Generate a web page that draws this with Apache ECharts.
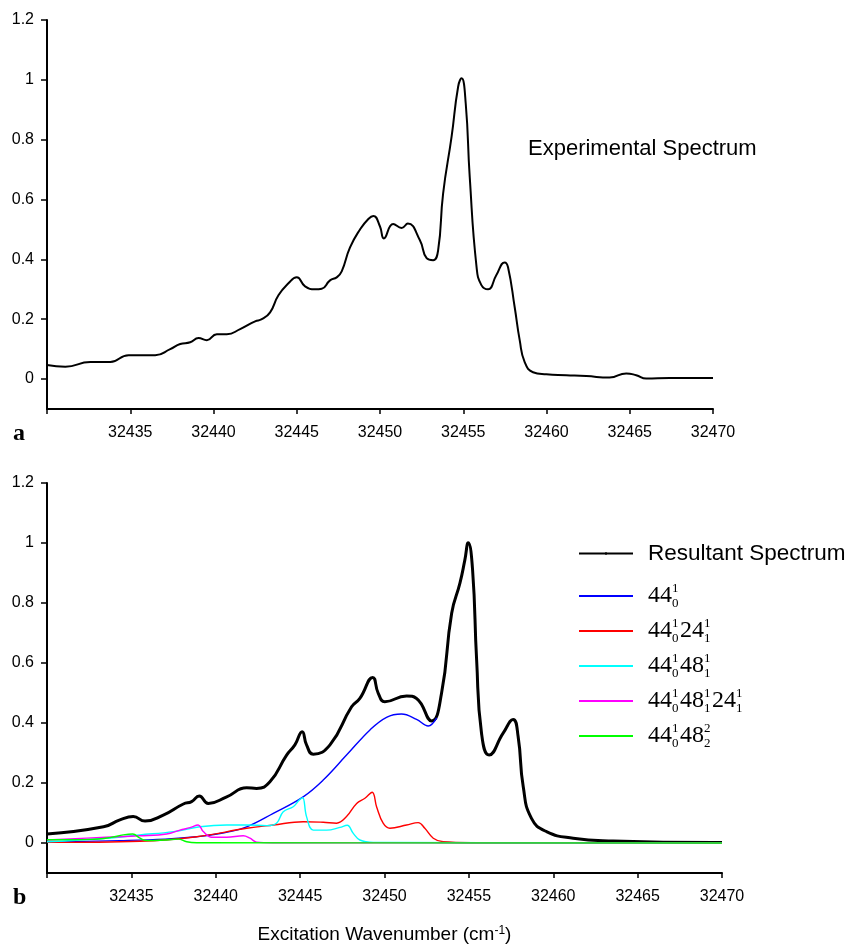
<!DOCTYPE html>
<html>
<head>
<meta charset="utf-8">
<script src="https://cdn.jsdelivr.net/npm/echarts@6/dist/echarts.min.js"></script>
<style>html,body{margin:0;padding:0;background:#fff}#c{width:846px;height:945px}</style>
</head>
<body>
<div id="c"></div>
<script>
// ---- data (wavenumber, intensity) ----
const experimental = [[32430,0.047],[32431.1,0.041],[32432.6,0.057],[32433.8,0.057],[32434.9,0.08],[32436.5,0.08],[32437.4,0.1],[32438.0,0.117],[32438.6,0.123],[32439.1,0.137],[32439.6,0.13],[32440.2,0.15],[32440.8,0.15],[32441.6,0.167],[32442.5,0.193],[32442.9,0.2],[32443.4,0.223],[32443.9,0.28],[32444.5,0.32],[32445.0,0.34],[32445.5,0.31],[32446.1,0.3],[32446.5,0.302],[32447.0,0.33],[32447.4,0.34],[32447.7,0.36],[32448.2,0.44],[32448.8,0.5],[32449.3,0.535],[32449.6,0.545],[32450.0,0.51],[32450.23,0.47],[32450.79,0.518],[32451.3,0.505],[32451.67,0.52],[32452.39,0.465],[32452.8,0.404],[32453.19,0.397],[32453.49,0.43],[32453.79,0.62],[32454.3,0.81],[32454.69,0.976],[32454.9,1.005],[32455.15,0.92],[32455.39,0.675],[32455.8,0.374],[32456.09,0.314],[32456.49,0.30],[32456.99,0.348],[32457.49,0.39],[32457.69,0.374],[32458.09,0.24],[32458.39,0.13],[32458.69,0.057],[32459.19,0.023],[32459.99,0.016],[32461.19,0.013],[32462.39,0.01],[32463.79,0.005],[32464.79,0.019],[32465.39,0.013],[32465.99,0.002],[32467.39,0.004],[32470,0.004]];

const resultant = [[32430,0.030],[32433.35,0.054],[32434.32,0.077],[32435.11,0.088],[32435.81,0.073],[32436.89,0.093],[32438.08,0.13],[32438.57,0.138],[32439.02,0.157],[32439.56,0.132],[32440.65,0.154],[32441.83,0.184],[32442.42,0.182],[32443.21,0.204],[32444.2,0.293],[32444.69,0.327],[32445.12,0.371],[32445.38,0.327],[32445.78,0.296],[32446.77,0.327],[32448.05,0.454],[32448.54,0.482],[32449.30,0.552],[32449.63,0.499],[32450.02,0.471],[32451.31,0.49],[32451.90,0.482],[32452.79,0.407],[32453.38,0.499],[32453.98,0.766],[32454.47,0.866],[32454.76,0.943],[32454.96,1.001],[32455.22,0.91],[32455.46,0.61],[32455.75,0.366],[32456.20,0.293],[32457.03,0.366],[32457.62,0.412],[32457.92,0.354],[32458.22,0.188],[32458.71,0.082],[32459.60,0.038],[32461.18,0.016],[32463.55,0.007],[32469.48,0.002],[32470,0.002]];

const band44 = [[32430,0.003],[32434.3,0.008],[32437,0.013],[32438.87,0.021],[32440.5,0.034],[32441.83,0.054],[32443.41,0.099],[32445.18,0.154],[32446.37,0.21],[32447.75,0.293],[32449.14,0.377],[32450.12,0.419],[32451.01,0.43],[32451.90,0.412],[32452.59,0.39],[32453.09,0.417]];

const band44_24 = [[32430,0.002],[32435.5,0.006],[32438.87,0.021],[32441.83,0.049],[32443.41,0.06],[32445.18,0.071],[32446.37,0.069],[32447.16,0.066],[32447.75,0.088],[32448.35,0.132],[32448.84,0.149],[32449.27,0.169],[32449.53,0.121],[32449.92,0.066],[32450.32,0.049],[32451.31,0.06],[32452.00,0.068],[32452.39,0.049],[32452.89,0.016],[32453.48,0.004],[32455.26,0.001],[32470,0.0]];

const band44_48 = [[32430,0.004],[32433.5,0.016],[32435.5,0.027],[32437.5,0.038],[32439.06,0.054],[32440.65,0.06],[32441.83,0.06],[32443.02,0.058],[32443.6,0.066],[32444.0,0.104],[32444.59,0.121],[32444.95,0.143],[32445.15,0.151],[32445.38,0.088],[32445.78,0.043],[32446.57,0.043],[32447.36,0.052],[32447.79,0.059],[32448.15,0.032],[32448.54,0.01],[32449.33,0.002],[32470,0.0]];

const band44_48_24 = [[32430,0.01],[32433.5,0.019],[32435.5,0.024],[32437.09,0.03],[32437.88,0.043],[32438.47,0.051],[32438.96,0.06],[32439.26,0.038],[32439.76,0.019],[32440.65,0.019],[32441.63,0.024],[32442.03,0.016],[32442.42,0.003],[32443.4,0.001],[32470,0.0]];

const band44_48x2 = [[32430,0.011],[32432.55,0.012],[32433.73,0.018],[32434.52,0.027],[32435.08,0.03],[32435.51,0.016],[32435.91,0.008],[32437.09,0.01],[32437.78,0.013],[32438.28,0.004],[32438.87,0.001],[32470,0.0]];

const xTickLabels = [32435,32440,32445,32450,32455,32460,32465,32470];
const yTickLabels = [0,0.2,0.4,0.6,0.8,1,1.2];

const seriesNames = ['Resultant Spectrum','44_0^1','44_0^1 24_1^1','44_0^1 48_1^1','44_0^1 48_1^1 24_1^1','44_0^1 48_2^2'];

// ---- chart ----
const SANS = '"Liberation Sans", Arial, sans-serif';
const SERIF = '"Liberation Serif", "Times New Roman", serif';

function xAxisCfg(gi, withName) {
  const a = {
    gridIndex: gi, type: 'value', min: 32430, max: 32470, interval: 5,
    axisLine: {onZero: false, lineStyle: {color: '#000', width: 2}},
    axisTick: {show: true, length: 5, lineStyle: {color: '#000', width: 1.5}},
    axisLabel: {customValues: xTickLabels, formatter: v => String(v), color: '#000', fontFamily: SANS, fontSize: 16, margin: 16},
    splitLine: {show: false}
  };
  if (withName) {
    a.name = 'Excitation Wavenumber (cm{sup|-1})';
    a.nameLocation = 'middle';
    a.nameGap = 52;
    a.nameTextStyle = {color: '#000', fontFamily: SANS, fontSize: 19,
      rich: {sup: {fontSize: 12, fontFamily: SANS, color: '#000', verticalAlign: 'top', lineHeight: 10}}};
  }
  return a;
}
function yAxisCfg(gi) {
  return {
    gridIndex: gi, type: 'value', min: -0.1, max: 1.2,
    axisLine: {show: true, onZero: false, lineStyle: {color: '#000', width: 2}},
    axisTick: {show: true, length: 6, customValues: yTickLabels, lineStyle: {color: '#000', width: 1.5}},
    axisLabel: {customValues: yTickLabels, color: '#000', fontFamily: SANS, fontSize: 16, margin: 13},
    splitLine: {show: false}
  };
}

function richName(name) {
  if (name === 'Resultant Spectrum') return name;
  return name.replace(/\s+/g, '').replace(/(\d+)_(\d)\^(\d)/g, '{m|$1}{sup|$3}{sub|$2}');
}

const thin = 1.4;
function lineSeries(name, data, color, width, axis, smooth) {
  return {name, type: 'line', xAxisIndex: axis, yAxisIndex: axis, data, symbol: 'none', smooth: smooth,
    legendIcon: 'rect', lineStyle: {color, width}, itemStyle: {color}};
}

const chart = echarts.init(document.getElementById('c'), null, {renderer: 'canvas'});
chart.setOption({
  animation: false,
  backgroundColor: '#fff',
  title: [
    {text: 'Experimental Spectrum', left: 523, top: 133, textStyle: {color: '#000', fontFamily: SANS, fontSize: 22, fontWeight: 'normal'}},
    {text: 'a', left: 8, top: 417, textStyle: {color: '#000', fontFamily: SERIF, fontSize: 24, fontWeight: 'bold'}},
    {text: 'b', left: 8, top: 881, textStyle: {color: '#000', fontFamily: SERIF, fontSize: 24, fontWeight: 'bold'}}
  ],
  grid: [
    {left: 47, width: 666, top: 20, height: 389, outerBoundsMode: 'none', containLabel: false},
    {left: 47, width: 675, top: 483, height: 390, outerBoundsMode: 'none', containLabel: false}
  ],
  xAxis: [xAxisCfg(0, false), xAxisCfg(1, true)],
  yAxis: [yAxisCfg(0), yAxisCfg(1)],
  legend: [
    {data: [seriesNames[0]], orient: 'vertical', left: 578, top: 542, padding: 0, itemWidth: 54, itemHeight: 3,
     textStyle: {color: '#000', fontFamily: SANS, fontSize: 22.5, padding: [0, 0, 0, 10]}},
    {data: seriesNames.slice(1), orient: 'vertical', left: 578, top: 582, padding: 0, itemWidth: 54, itemHeight: 2, itemGap: 7,
     formatter: richName,
     textStyle: {color: '#000', fontFamily: SERIF, fontSize: 24, padding: [0, 0, 0, 10],
       rich: {
         m: {fontFamily: SERIF, fontSize: 24, color: '#000', lineHeight: 28},
         sup: {fontFamily: SERIF, fontSize: 13, color: '#000', lineHeight: 16, verticalAlign: 'top', width: 0.01},
         sub: {fontFamily: SERIF, fontSize: 13, color: '#000', lineHeight: 16, verticalAlign: 'bottom', width: 8}
       }}}
  ],
  series: [
    lineSeries('Experimental Spectrum', experimental, '#000', 2, 0, 0.5),
    lineSeries(seriesNames[0], resultant, '#000', 3, 1, 0.5),
    lineSeries(seriesNames[1], band44, '#0000ff', thin, 1, 0.4),
    lineSeries(seriesNames[2], band44_24, '#ff0000', thin, 1, 0.4),
    lineSeries(seriesNames[3], band44_48, '#00ffff', thin, 1, 0.4),
    lineSeries(seriesNames[4], band44_48_24, '#ff00ff', thin, 1, 0.4),
    lineSeries(seriesNames[5], band44_48x2, '#00ff00', thin, 1, 0.4)
  ]
});
</script>
</body>
</html>
